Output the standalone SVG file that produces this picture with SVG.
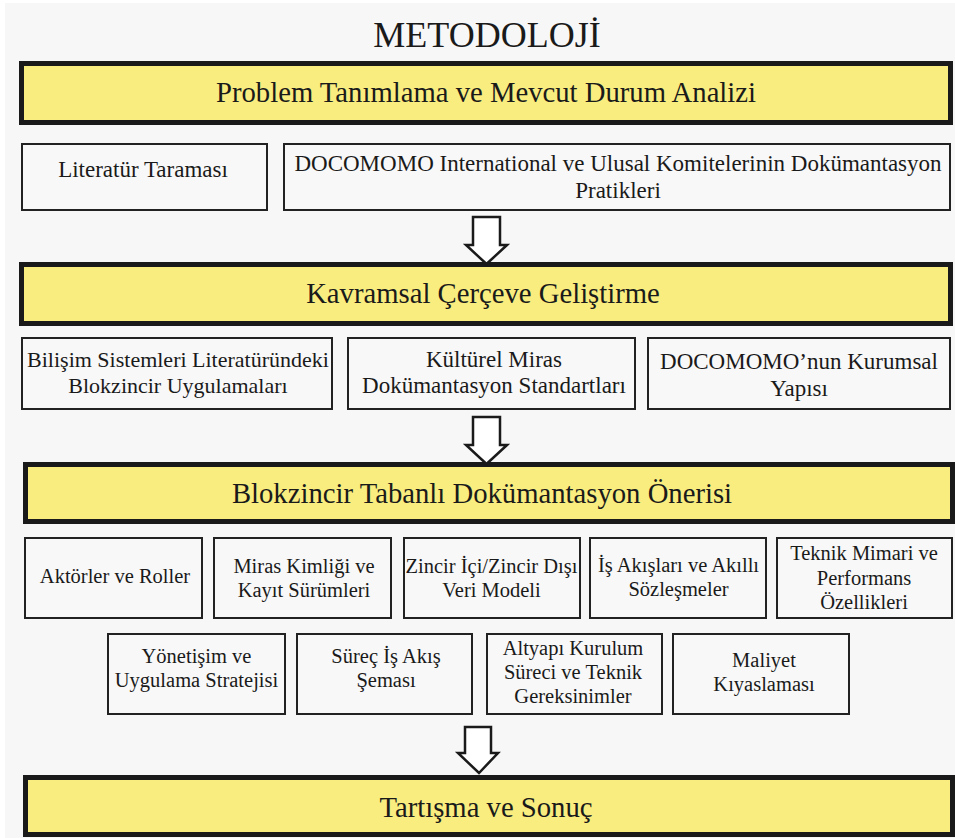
<svg xmlns="http://www.w3.org/2000/svg" width="955" height="838" viewBox="0 0 955 838" font-family="'Liberation Serif', 'Times New Roman', serif">
<style>
.bar{fill:#f9ed7f;stroke:#1a1a1a;stroke-width:5}
.box{fill:#f8f8f8;stroke:#222;stroke-width:2}
.bt{font-family:"Liberation Serif","Times New Roman",serif;font-size:28.7px;fill:#1a1a1a;text-anchor:middle}
.t1{font-family:"Liberation Serif","Times New Roman",serif;font-size:23px;fill:#1a1a1a;text-anchor:middle}
.t2{font-family:"Liberation Serif","Times New Roman",serif;font-size:20.5px;fill:#1a1a1a;text-anchor:middle}
.arr{fill:#ffffff;stroke:#1a1a1a;stroke-width:2.5;stroke-linejoin:miter}
</style>
<rect x="0" y="0" width="955" height="838" fill="#ffffff"/>
<rect x="5" y="3" width="950" height="835" fill="#f7f7f7"/>
<text class="bt" x="487" y="47" style="font-size:36px">METODOLOJİ</text>

<g id="bar1"><rect class="bar" x="21.5" y="63.5" width="929" height="59"/><text class="bt" x="486" y="102">Problem Tanımlama ve Mevcut Durum Analizi</text></g>
<g id="lit"><rect class="box" x="22" y="144" width="245" height="66"/><text class="t1" x="143" y="177">Literatür Taraması</text></g>
<g id="docomomo"><rect class="box" x="284" y="144" width="666" height="66"/><text class="t1" x="618" y="171">DOCOMOMO International ve Ulusal Komitelerinin Dokümantasyon</text><text class="t1" x="618" y="198">Pratikleri</text></g>

<g id="bar2"><rect class="bar" x="21.5" y="264.5" width="929" height="59"/><text class="bt" x="483" y="303">Kavramsal Çerçeve Geliştirme</text></g>
<g id="bilisim"><rect class="box" x="22" y="338" width="310" height="71"/><text class="t1" x="178" y="367" style="font-size:22px">Bilişim Sistemleri Literatüründeki</text><text class="t1" x="178" y="393" style="font-size:22px">Blokzincir Uygulamaları</text></g>
<g id="kultur"><rect class="box" x="348" y="338" width="287" height="71"/><text class="t1" x="494" y="367">Kültürel Miras</text><text class="t1" x="494" y="393">Dokümantasyon Standartları</text></g>
<g id="kurumsal"><rect class="box" x="648" y="338" width="302" height="71"/><text class="t1" x="799" y="369">DOCOMOMO’nun Kurumsal</text><text class="t1" x="799" y="396">Yapısı</text></g>

<g id="bar3"><rect class="bar" x="25.5" y="464.5" width="927" height="57"/><text class="bt" x="482" y="503">Blokzincir Tabanlı Dokümantasyon Önerisi</text></g>
<g id="aktor"><rect class="box" x="25" y="538" width="177" height="80"/><text class="t2" x="115" y="583">Aktörler ve Roller</text></g>
<g id="miras"><rect class="box" x="214" y="538" width="177" height="80"/><text class="t2" x="304" y="573">Miras Kimliği ve</text><text class="t2" x="304" y="597">Kayıt Sürümleri</text></g>
<g id="zincir"><rect class="box" x="404" y="538" width="176" height="80"/><text class="t2" x="491.5" y="573">Zincir İçi/Zincir Dışı</text><text class="t2" x="491.5" y="597">Veri Modeli</text></g>
<g id="isakis"><rect class="box" x="590" y="538" width="176" height="80"/><text class="t2" x="678.5" y="572">İş Akışları ve Akıllı</text><text class="t2" x="678.5" y="596">Sözleşmeler</text></g>
<g id="teknik"><rect class="box" x="777" y="538" width="175" height="80"/><text class="t2" x="864" y="560">Teknik Mimari ve</text><text class="t2" x="864" y="585">Performans</text><text class="t2" x="864" y="609">Özellikleri</text></g>
<g id="yonetisim"><rect class="box" x="108" y="634" width="177" height="80"/><text class="t2" x="196.5" y="663">Yönetişim ve</text><text class="t2" x="196.5" y="687">Uygulama Stratejisi</text></g>
<g id="surec"><rect class="box" x="297" y="634" width="175" height="80"/><text class="t2" x="386" y="663">Süreç İş Akış</text><text class="t2" x="386" y="687">Şeması</text></g>
<g id="altyapi"><rect class="box" x="487" y="634" width="175" height="80"/><text class="t2" x="573" y="655">Altyapı Kurulum</text><text class="t2" x="573" y="679">Süreci ve Teknik</text><text class="t2" x="573" y="703">Gereksinimler</text></g>
<g id="maliyet"><rect class="box" x="673" y="634" width="176" height="80"/><text class="t2" x="764" y="667">Maliyet</text><text class="t2" x="764" y="691">Kıyaslaması</text></g>

<g id="bar4"><rect class="bar" x="25.5" y="777.5" width="927" height="57"/><text class="bt" x="486" y="817">Tartışma ve Sonuç</text></g>

<g id="connectors">
<path class="arr" d="M473,217 H500 V245 H507 L486.5,264 L466,245 H473 Z"/>
<path class="arr" d="M473,417 H500 V445 H507 L486.5,464 L466,445 H473 Z"/>
<path class="arr" d="M465,727 H491 V753 H498 L479,773 L458,753 H465 Z"/>
</g>
</svg>
